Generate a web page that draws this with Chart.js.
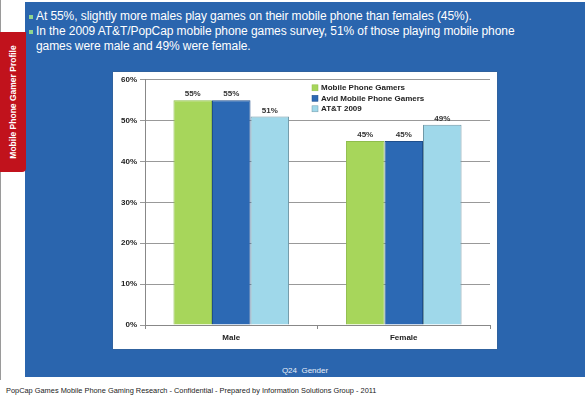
<!DOCTYPE html>
<html>
<head>
<meta charset="utf-8">
<script src="https://cdn.jsdelivr.net/npm/chart.js@4.4.0/dist/chart.umd.min.js"></script>
<style>
  html, body { margin: 0; padding: 0; background: #fff; }
  body { width: 585px; height: 398px; position: relative; overflow: hidden; font-family: "Liberation Sans", Arial, sans-serif; }
  #edge { position: absolute; left: 0; top: 0; width: 1px; height: 380px; background: #9a9a9a; }
  #panel { position: absolute; left: 25px; top: 2px; width: 560px; height: 375px; background: #2a65ae; }
  #tab { position: absolute; left: 0; top: 32px; width: 26px; height: 140px; background: #c1121c; border-radius: 0 0 4px 0; }
  #tab span { position: absolute; left: 13px; top: 70px; transform: translate(-50%, -50%) rotate(-90deg); white-space: nowrap;
    color: #fff; font-weight: bold; font-size: 8.5px; }
  #bullets { position: absolute; left: 25px; top: 9px; width: 505px; color: #fff; font-size: 12px; line-height: 15px; letter-spacing: -0.08px; }
  #bullets div { position: relative; padding-left: 11px; }
  #bullets div i { position: absolute; left: 4px; top: 6px; width: 4px; height: 4px; background: #8fd68f; }
  #box { position: absolute; left: 113px; top: 72px; width: 384px; height: 277px; background: #fff; box-shadow: 0 0 1px #555; }
  #q { position: absolute; left: 25px; width: 560px; top: 366px; text-align: center; color: #e8eef8; font-size: 8px; }
  #foot { position: absolute; left: 6px; top: 386px; font-size: 7.4px; color: #222; white-space: nowrap; }
</style>
</head>
<body>
<div id="edge"></div>
<div id="panel"></div>
<div id="tab"><span>Mobile Phone Gamer Profile</span></div>
<div id="bullets">
  <div><i></i>At 55%, slightly more males play games on their mobile phone than females (45%).</div>
  <div><i></i>In the 2009 AT&amp;T/PopCap mobile phone games survey, 51% of those playing mobile phone games were male and 49% were female.</div>
</div>
<div id="box"><canvas id="myChart" width="384" height="277"></canvas></div>
<div id="q">Q24&nbsp; Gender</div>
<div id="foot">PopCap Games Mobile Phone Gaming Research - Confidential - Prepared by Information Solutions Group - 2011</div>

<script>
let categories = ["Male", "Female"];
let seriesNames = ["Mobile Phone Gamers", "Avid Mobile Phone Gamers", "AT&T 2009"];
let mobileGamers = [55, 45];
let avidGamers = [55, 45];
let att2009 = [51, 49];
let yTicks = [0, 10, 20, 30, 40, 50, 60];

const FONT = "'Liberation Sans', Arial, sans-serif";

// value labels above each bar
const barLabels = {
    id: 'barLabels',
    afterDatasetsDraw(chart) {
        let ctx = chart.ctx;
        ctx.save();
        ctx.font = "bold 8px " + FONT;
        ctx.fillStyle = "#333";
        ctx.textAlign = "center";
        ctx.textBaseline = "bottom";
        chart.data.datasets.forEach((ds, i) => {
            chart.getDatasetMeta(i).data.forEach((bar, j) => {
                ctx.fillText(ds.data[j] + "%", bar.x, bar.y - 2);
            });
        });
        ctx.restore();
    }
};

// legend drawn inside the plot area, top right
const innerLegend = {
    id: 'innerLegend',
    afterDraw(chart) {
        let ctx = chart.ctx;
        let x = chart.chartArea.left + 167;
        let y = chart.chartArea.top + 8;
        ctx.save();
        ctx.font = "bold 8px " + FONT;
        ctx.textBaseline = "middle";
        chart.data.datasets.forEach((ds, i) => {
            let yy = y + i * 10.5;
            ctx.fillStyle = ds.backgroundColor;
            ctx.fillRect(x, yy - 3, 6, 6);
            ctx.strokeStyle = ds.borderColor;
            ctx.lineWidth = 0.5;
            ctx.strokeRect(x, yy - 3, 6, 6);
            ctx.fillStyle = "#222";
            ctx.fillText(ds.label, x + 9, yy);
        });
        ctx.restore();
    }
};

const ctx = document.getElementById('myChart').getContext('2d');
const myChart = new Chart(ctx, {
    type: 'bar',
    data: {
        labels: categories,
        datasets: [{
            label: seriesNames[0],
            data: mobileGamers,
            backgroundColor: "#a7d65b",
            borderColor: "#8fbd4c",
            borderWidth: 1
        }, {
            label: seriesNames[1],
            data: avidGamers,
            backgroundColor: "#2c69b4",
            borderColor: "#1f4f8c",
            borderWidth: 1
        }, {
            label: seriesNames[2],
            data: att2009,
            backgroundColor: "#9fd8ea",
            borderColor: "#6f98a6",
            borderWidth: 1
        }]
    },
    plugins: [barLabels, innerLegend],
    options: {
        responsive: false,
        animation: false,
        layout: { padding: { left: 0, top: 7, right: 7, bottom: 0 } },
        datasets: { bar: { categoryPercentage: 0.67, barPercentage: 1 } },
        plugins: {
            legend: { display: false },
            tooltip: { enabled: false }
        },
        scales: {
            x: {
                grid: { drawOnChartArea: false, drawTicks: true, tickLength: 4, color: "#888" },
                border: { color: "#888" },
                ticks: { color: "#222", font: { family: FONT, size: 8, weight: 'bold' }, padding: 4 },
                afterFit(scale) { scale.height = 24; }
            },
            y: {
                min: 0,
                max: 60,
                afterBuildTicks(scale) { scale.ticks = yTicks.map(v => ({ value: v })); },
                grid: { color: "#999", tickLength: 5 },
                border: { color: "#888" },
                ticks: {
                    color: "#222",
                    font: { family: FONT, size: 8, weight: 'bold' },
                    padding: 3,
                    callback: v => v + "%"
                },
                afterFit(scale) { scale.width = 32; }
            }
        }
    }
});
</script>
</body>
</html>
